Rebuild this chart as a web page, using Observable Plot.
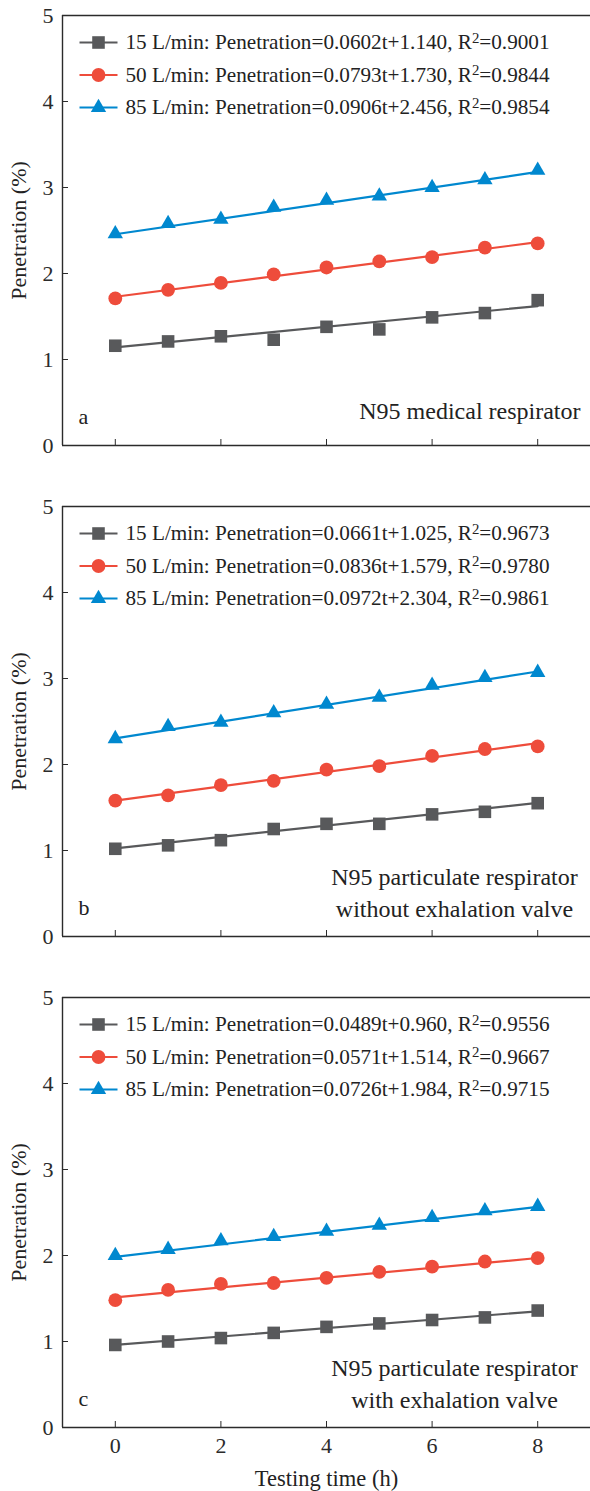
<!DOCTYPE html>
<html><head><meta charset="utf-8">
<script src="https://cdn.jsdelivr.net/npm/d3@7"></script>
<script src="https://cdn.jsdelivr.net/npm/@observablehq/plot@0.6"></script>
<style>
body{margin:0;background:#fff}
#chart svg{display:block}
#chart svg, #chart svg text{font-family:"Liberation Serif","Times New Roman",serif !important}
</style>
</head><body><div id="chart"></div>
<script>
// ---------- data ----------
const times = [0, 1, 2, 3, 4, 5, 6, 7, 8];
const flowRates = ["15 L/min", "50 L/min", "85 L/min"];
const xTicks = [0, 2, 4, 6, 8];
const yTicks = [0, 1, 2, 3, 4, 5];
const panelLetters = ["a", "b", "c"];
const panelTitles = [
  ["N95 medical respirator"],
  ["N95 particulate respirator", "without exhalation valve"],
  ["N95 particulate respirator", "with exhalation valve"]
];

// panel a: N95 medical respirator
const a15 = [1.16, 1.21, 1.27, 1.23, 1.38, 1.35, 1.49, 1.54, 1.69];
const a50 = [1.71, 1.81, 1.89, 1.99, 2.07, 2.14, 2.19, 2.30, 2.35];
const a85 = [2.46, 2.58, 2.63, 2.77, 2.85, 2.90, 3.00, 3.09, 3.20];
const aSlopes = ["0.0602", "0.0793", "0.0906"];
const aIntercepts = ["1.140", "1.730", "2.456"];
const aR2 = ["0.9001", "0.9844", "0.9854"];

// panel b: particulate respirator without valve
const b15 = [1.02, 1.06, 1.12, 1.25, 1.31, 1.31, 1.42, 1.45, 1.55];
const b50 = [1.58, 1.64, 1.76, 1.81, 1.94, 1.98, 2.10, 2.18, 2.21];
const b85 = [2.30, 2.44, 2.49, 2.60, 2.70, 2.78, 2.92, 3.01, 3.07];
const bSlopes = ["0.0661", "0.0836", "0.0972"];
const bIntercepts = ["1.025", "1.579", "2.304"];
const bR2 = ["0.9673", "0.9780", "0.9861"];

// panel c: particulate respirator with valve
const c15 = [0.96, 1.00, 1.04, 1.10, 1.17, 1.21, 1.25, 1.28, 1.36];
const c50 = [1.48, 1.60, 1.67, 1.68, 1.74, 1.81, 1.87, 1.93, 1.97];
const c85 = [2.00, 2.07, 2.17, 2.22, 2.28, 2.35, 2.44, 2.52, 2.57];
const cSlopes = ["0.0489", "0.0571", "0.0726"];
const cIntercepts = ["0.960", "1.514", "1.984"];
const cR2 = ["0.9556", "0.9667", "0.9715"];

// ---------- styling ----------
const colors = ["#58595b", "#ee4c3b", "#0088cf"];
const symbols = ["square", "circle", "triangle"];
const radii = [7.1, 6.9, 5.7];
const FONT = "Liberation Serif, Times New Roman, serif";
const W = 590, ML = 62, MR = 0, PH = 430;
const pxX = px => -1 + px * 10 / (W - ML - MR);   // pixel offset from plot left -> x value
const pxY = py => 5 - py * 5 / PH;               // pixel offset from plot top -> y value

const panels = [
  {series: [a15, a50, a85], slopes: aSlopes, intercepts: aIntercepts, r2: aR2},
  {series: [b15, b50, b85], slopes: bSlopes, intercepts: bIntercepts, r2: bR2},
  {series: [c15, c50, c85], slopes: cSlopes, intercepts: cIntercepts, r2: cR2}
];
const layout = [
  {mt: 15, mb: 30},
  {mt: 31, mb: 30},
  {mt: 31, mb: 64}
];

const chart = document.getElementById("chart");

panels.forEach((p, k) => {
  const last = k === panels.length - 1;
  const marks = [];
  marks.push(Plot.ruleY([0, 5], {stroke: "#2b2b2b", strokeWidth: 1.4}));
  marks.push(Plot.ruleX([-1], {stroke: "#2b2b2b", strokeWidth: 1.4}));
  marks.push(Plot.axisY({ticks: yTicks, tickSize: -6, tickPadding: 15, fontSize: 22, label: null,
    tickFormat: d => String(d)}));
  marks.push(Plot.axisX({ticks: xTicks, tickSize: -6, tickPadding: 16, fontSize: 22, label: null,
    tickFormat: last ? (d => String(d)) : (() => "")}));
  p.series.forEach((vals, i) => {
    const a = +p.slopes[i], b = +p.intercepts[i];
    const t0 = times[0], t1 = times[times.length - 1];
    const fit = [{t: t0, v: b + a * t0}, {t: t1, v: b + a * t1}];
    marks.push(Plot.line(fit, {x: "t", y: "v", stroke: colors[i], strokeWidth: 2.2}));
    const pts = times.map((t, j) => ({t, v: vals[j]}));
    marks.push(Plot.dot(pts, {x: "t", y: "v", symbol: () => symbols[i], fill: colors[i], stroke: "none", r: radii[i]}));
  });
  const rowPx = [27, 59.5, 92];
  flowRates.forEach((f, i) => {
    const y = pxY(rowPx[i]);
    marks.push(Plot.link([0], {x1: pxX(17), x2: pxX(55), y1: y, y2: y, stroke: colors[i], strokeWidth: 2.2}));
    marks.push(Plot.dot([0], {x: pxX(36), y: y, symbol: () => symbols[i], fill: colors[i], stroke: "none", r: radii[i]}));
    const label = `${f}: Penetration=${p.slopes[i]}t+${p.intercepts[i]}, R^2=${p.r2[i]}`;
    marks.push(Plot.text([label], {x: pxX(63), y: y, text: d => d, textAnchor: "start", fontSize: 21.2, fill: "#222"}));
  });
  marks.push(Plot.text([panelLetters[k]], {frameAnchor: "bottom-left", dx: 16, dy: -22, text: d => d,
    textAnchor: "start", lineAnchor: "bottom", fontSize: 22, fill: "#222"}));
  const title = panelTitles[k];
  if (title.length === 1) {
    marks.push(Plot.text([title[0]], {frameAnchor: "bottom-right", dx: -10, dy: -27, text: d => d,
      textAnchor: "end", lineAnchor: "bottom", fontSize: 24, fill: "#222"}));
  } else {
    marks.push(Plot.text([title.join("\n")], {frameAnchor: "bottom-right", dx: -136, dy: -20, text: d => d,
      textAnchor: "middle", lineAnchor: "bottom", lineHeight: 1.3, fontSize: 24, fill: "#222"}));
  }
  marks.push(Plot.text(["Penetration (%)"], {frameAnchor: "left", dx: -44, rotate: -90, text: d => d,
    textAnchor: "middle", fontSize: 22, fill: "#222"}));
  if (last) {
    marks.push(Plot.text(["Testing time (h)"], {x: 4, frameAnchor: "bottom", dy: 58, text: d => d,
      textAnchor: "middle", lineAnchor: "bottom", fontSize: 22.5, fill: "#222"}));
  }

  const svg = Plot.plot({
    width: W,
    height: layout[k].mt + PH + layout[k].mb,
    marginLeft: ML, marginRight: MR, marginTop: layout[k].mt, marginBottom: layout[k].mb,
    x: {domain: [-1, 9]},
    y: {domain: [0, 5]},
    style: {fontFamily: FONT, color: "#2b2b2b", background: "#fff", overflow: "visible"},
    marks
  });
  svg.querySelectorAll("text").forEach(t => {
    if (t.textContent.includes("^2") && t.children.length === 0) {
      const [before, after] = t.textContent.split("^2");
      t.textContent = "";
      const ns = "http://www.w3.org/2000/svg";
      const s1 = document.createElementNS(ns, "tspan"); s1.textContent = before;
      const s2 = document.createElementNS(ns, "tspan"); s2.textContent = "2";
      s2.setAttribute("dy", "-0.45em"); s2.setAttribute("font-size", "0.7em");
      const s3 = document.createElementNS(ns, "tspan"); s3.textContent = after;
      s3.setAttribute("dy", "0.315em");
      t.append(s1, s2, s3);
    }
  });
  chart.appendChild(svg);
});
</script>
</body></html>
